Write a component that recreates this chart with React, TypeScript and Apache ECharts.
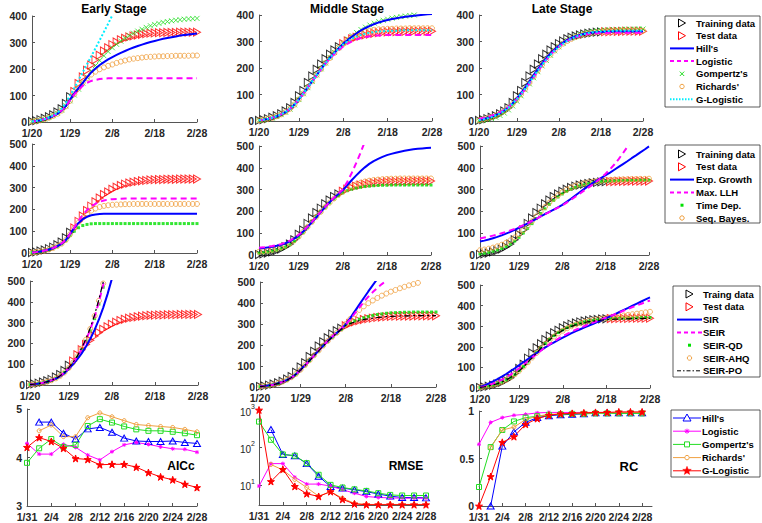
import React, { useEffect, useRef } from 'react';
import * as echarts from 'echarts';

// ---------------- data ----------------
const dates = ['1/20','1/21','1/22','1/23','1/24','1/25','1/26','1/27','1/28','1/29','1/30','1/31',
  '2/1','2/2','2/3','2/4','2/5','2/6','2/7','2/8','2/9','2/10','2/11','2/12','2/13','2/14','2/15',
  '2/16','2/17','2/18','2/19','2/20','2/21','2/22','2/23','2/24','2/25','2/26','2/27','2/28'];
const tickDates = ['1/20','1/29','2/8','2/18','2/28'];

const cases = [2,5,9,14,20,27,38,50,70,95, 115,145,170,195,215,235,252,268,280,292,
  302,310,316,321,325,328,331,333,335,336, 337,337,338,338,338,339,339,339,339,339];

// training period length (days) for each stage
const trainDays = [10, 19, 30];

// --- phenomenological models (row 1) ---
const earlyHill = [2,4,7,11,16,23,31,43,60,85, 108,128,148,168,187,202,215,226,236,245,
  253,261,268,275,281,287,292,297,302,306, 310,314,317,320,323,326,328,330,332,334];
const earlyLogistic = [2,4,7,11,16,23,32,44,60,82, 104,122,137,148,155,159,162,164,165,165,
  165,165,165,165,165,165,165,165,165,165, 165,165,165,165,165,165,165,165,165,165];
const earlyGompertz = [2,4,7,11,17,24,33,45,61,80, 102,124,147,170,192,213,232,250,266,280,
  293,305,316,326,335,343,350,357,363,368, 372,376,379,382,384,386,388,389,390,391];
const earlyRichards = [2,4,7,11,16,23,31,43,59,80, 105,128,148,165,179,190,199,206,212,217,
  223,228,232,236,239,241,243,245,246,247, 248,248,249,249,250,250,250,250,251,251];
const earlyGLogistic = [2,4,7,11,17,25,35,50,72,100, 128,158,188,218,248,278,309,340,371,403,
  436,null,null,null,null,null,null,null,null,null, null,null,null,null,null,null,null,null,null,null];

const middleHill = [3,5,8,12,18,25,34,46,62,82, 104,127,150,173,196,218,238,257,276,292,
  306,319,331,342,351,359,366,372,377,381, 385,388,391,393,395,397,399,401,403,404];
const middleLogistic = [3,5,8,12,18,25,34,46,62,82, 104,127,150,173,196,217,236,253,268,281,
  292,301,308,313,317,320,322,323,324,325, 325,325,325,325,325,325,325,325,325,325];
const middleGompertz = [2,4,7,11,17,24,33,45,61,81, 103,126,150,174,197,219,240,259,277,294,
  309,322,334,345,354,362,369,375,380,384, 388,391,394,396,398,400,402,403,405,406];
const middleRichards = [3,5,8,12,18,25,34,46,62,82, 104,127,150,173,196,218,238,257,275,291,
  305,316,325,332,337,341,344,346,347,348, 348,349,349,349,350,350,350,350,350,350];
const middleGLogistic = [3,5,8,12,18,25,34,46,62,82, 104,127,150,173,196,218,238,257,274,289,
  301,311,319,325,330,333,336,338,339,340, 341,341,342,342,342,342,342,342,342,342];

const lateHill = [4,7,11,16,22,30,40,52,67,85, 105,127,150,173,196,217,237,255,270,284,
  296,306,314,320,325,329,332,334,335,336, 337,337,338,338,338,338,338,338,338,338];
const lateLogistic = [8,11,15,20,26,33,42,53,66,82, 100,120,142,165,188,210,231,250,266,280,
  292,302,310,316,321,325,328,330,331,332, 332,333,333,333,333,333,333,333,333,333];
const lateGompertz = [1,3,5,9,14,21,30,42,57,75, 95,117,140,163,186,208,229,248,265,280,
  293,304,313,320,326,331,335,338,340,342, 343,344,345,345,346,346,346,347,347,347];
const lateRichards = [3,6,10,15,21,29,38,50,64,81, 100,121,144,167,190,212,232,250,266,280,
  292,302,310,317,322,327,330,333,335,337, 338,339,340,340,341,341,341,341,341,341];
const lateGLogistic = [3,6,10,15,21,29,39,51,66,83, 102,123,145,168,191,212,232,250,266,280,
  292,302,311,318,324,328,332,335,337,338, 339,340,340,341,341,341,341,341,341,341];

// --- statistical models (row 2) ---
const earlyExp = [2,4,7,11,16,23,31,42,60,88, 115,138,155,166,173,177,179,180,180,180,
  180,180,180,180,180,180,180,180,180,180, 180,180,180,180,180,180,180,180,180,180];
const earlyLLH = [2,4,7,11,16,23,32,44,61,88, 118,148,175,197,214,226,235,241,245,247,
  248,249,250,250,250,250,250,250,250,250, 250,250,250,250,250,250,250,250,250,250];
const earlyTD = [2,4,7,11,16,23,31,42,58,80, 100,116,126,131,134,135,135,135,135,135,
  135,135,135,135,135,135,135,135,135,135, 135,135,135,135,135,135,135,135,135,135];
const earlySB = [2,4,7,11,16,23,32,43,60,86, 114,140,162,180,194,204,211,216,219,221,
  222,223,224,224,225,225,225,225,225,225, 225,225,225,225,225,225,225,225,225,225];

const middleExp = [30,32,35,38,42,47,54,63,75,90, 108,128,150,173,197,220,242,262,280,297,
  320,343,364,384,402,418,431,441,450,458, 464,469,474,478,482,485,487,489,491,492];
const middleLLH = [33,35,38,41,45,50,57,66,78,93, 110,130,152,175,198,221,243,263,282,300,
  335,375,420,468,520,null,null,null,null,null, null,null,null,null,null,null,null,null,null,null];
const middleTD = [8,10,13,17,22,28,36,47,62,81, 103,127,151,175,198,219,239,257,272,285,
  295,302,307,311,314,316,318,319,320,320, 321,321,321,321,321,321,321,321,321,321];
const middleSB = [15,17,20,24,29,35,43,53,67,85, 106,129,152,175,198,220,240,259,276,291,
  304,315,324,331,337,341,344,346,348,349, 350,350,351,351,351,351,351,351,351,351];

const lateExp = [62,66,71,77,83,90,98,106,115,125, 135,145,155,166,177,188,198,208,219,230,
  244,258,273,288,302,316,330,342,354,366, 378,391,404,417,430,444,457,471,484,498];
const lateLLH = [76,80,84,89,94,100,106,113,120,128, 137,146,156,166,177,187,197,207,217,227,
  240,253,267,281,295,309,323,338,355,373, 393,415,440,467,496,527,null,null,null,null];
const lateTD = [5,8,12,17,23,30,39,50,64,81, 101,122,144,167,190,212,232,250,266,280,
  292,302,310,317,322,327,331,334,336,338, 339,340,341,341,342,342,342,343,343,343];
const lateSB = [22,25,29,34,40,47,56,67,80,96, 114,134,155,177,199,220,240,258,274,288,
  300,310,318,324,329,333,336,339,341,343, 344,345,346,347,347,348,348,349,349,350];

// --- compartmental models (row 3) ---
const earlySIR = [2,4,7,11,16,23,31,42,57,78, 100,124,152,185,222,265,315,372,437,510,
  null,null,null,null,null,null,null,null,null,null, null,null,null,null,null,null,null,null,null,null];
const earlySEIR = [2,4,7,11,16,23,32,44,60,82, 107,137,173,216,267,328,400,482,575,null,
  null,null,null,null,null,null,null,null,null,null, null,null,null,null,null,null,null,null,null,null];
const earlyQD = [2,4,7,11,16,23,32,44,60,81, 105,134,169,211,260,319,389,470,560,null,
  null,null,null,null,null,null,null,null,null,null, null,null,null,null,null,null,null,null,null,null];
const earlyAHQ = [2,4,7,11,16,23,32,44,60,82, 108,138,175,218,270,332,405,488,580,null,
  null,null,null,null,null,null,null,null,null,null, null,null,null,null,null,null,null,null,null,null];
const earlyPO = [2,4,7,11,16,23,32,44,60,83, 109,140,178,222,275,338,412,496,590,null,
  null,null,null,null,null,null,null,null,null,null, null,null,null,null,null,null,null,null,null,null];

const middleSIR = [3,5,8,12,18,25,34,46,62,82, 104,127,150,173,196,218,238,257,276,298,
  328,360,392,424,455,485,515,null,null,null, null,null,null,null,null,null,null,null,null,null];
const middleSEIR = [2,4,7,11,17,24,33,45,61,81, 103,126,150,174,197,219,240,259,278,298,
  322,350,378,405,430,452,472,490,506,null, null,null,null,null,null,null,null,null,null,null];
const middleQD = [2,4,7,11,17,24,33,45,61,81, 103,126,149,172,195,217,237,256,274,295,
  305,315,323,330,336,341,345,348,351,353, 354,355,356,356,357,357,357,357,357,357];
const middleAHQ = [3,5,8,12,18,26,35,47,63,83, 105,128,151,174,197,219,239,258,277,300,
  324,347,367,384,399,412,424,435,445,454, 462,470,477,484,490,496,502,null,null,null];
const middlePO = [2,4,7,11,17,24,33,45,61,81, 103,126,149,172,195,217,237,256,275,293,
  302,310,316,321,325,328,331,333,335,336, 337,338,339,339,340,340,340,340,340,340];

const lateSIR = [5,13,22,32,43,55,68,82,96,111, 126,141,156,170,184,197,210,222,234,245,
  256,266,276,285,294,303,312,321,330,339, 349,359,369,379,389,400,410,420,430,440];
const lateSEIR = [3,8,14,21,30,40,52,65,80,96, 113,130,148,165,182,198,213,227,240,252,
  263,273,283,292,301,310,318,326,334,342, 350,359,367,376,384,393,401,409,417,425];
const lateQD = [3,6,10,15,21,29,39,51,66,84, 104,126,149,172,195,216,236,254,269,282,
  293,302,310,316,321,325,328,331,333,335, 336,337,338,339,340,340,341,341,342,342];
const lateAHQ = [4,7,11,16,22,30,40,52,67,84, 104,125,148,171,193,214,233,250,265,278,
  290,300,308,315,321,326,330,334,337,340, 343,346,349,352,355,358,361,364,367,370];
const latePO = [3,6,10,15,21,29,39,51,66,83, 103,125,148,171,194,215,234,251,266,279,
  290,299,307,313,318,322,325,328,330,332, 333,334,335,336,336,337,337,337,338,338];

// --- row 4: metrics, evaluated every two days ---
const dates4 = ['1/31','2/2','2/4','2/6','2/8','2/10','2/12','2/14','2/16','2/18','2/20','2/22','2/24','2/26','2/28'];
const days4 = [0,2,4,6,8,10,12,14,16,18,20,22,24,26,28];
const labelDays4 = [0,4,8,12,16,20,24,28];

const aiccHill = [null,4.73,4.73,4.50,4.38,4.59,4.62,4.52,4.40,4.34,4.33,4.33,4.34,4.31,4.29];
const aiccLogistic = [4.29,4.07,4.07,4.27,4.21,4.05,3.95,4.12,4.26,4.31,4.27,4.22,4.18,4.17,4.11];
const aiccGompertz = [3.89,4.19,4.38,4.22,4.26,4.65,4.79,4.72,4.64,4.58,4.55,4.55,4.53,4.50,4.46];
const aiccRichards = [null,4.55,4.67,4.43,4.43,4.82,4.92,4.84,4.76,4.68,4.66,4.64,4.62,4.58,4.53];
const aiccGLogistic = [4.21,4.41,4.33,4.19,3.98,3.96,3.85,3.86,3.86,3.80,3.69,3.60,3.54,3.45,3.38];

const rmseHill = [null,300,65,60,37,17,9,8.2,7.4,6.6,5.7,5.0,4.6,4.6,4.5];
const rmseLogistic = [9.3,37,37,16,10.5,10.5,9.3,7.4,6.0,4.9,4.6,4.5,4.4,4.4,4.4];
const rmseGompertz = [490,160,65,60,38,18.6,10,8.5,7.6,6.9,6.0,5.4,5.2,5.2,5.2];
const rmseRichards = [null,35,25,14,8.5,5.0,6.6,4.4,3.2,3.0,3.0,3.0,3.0,3.0,3.0];
const rmseGLogistic = [1000,12.3,26,9.1,5.8,4.9,6.6,4.1,3.1,2.95,2.95,2.95,2.95,2.95,2.95];

const rcHill = [null,0,0.63,0.78,0.88,0.93,0.95,0.96,0.965,0.97,0.98,0.98,0.98,0.98,0.98];
const rcLogistic = [0.65,0.88,0.93,0.955,0.965,0.98,0.985,0.985,0.985,0.985,0.985,0.985,0.985,0.985,0.985];
const rcGompertz = [0.20,0.62,0.80,0.89,0.93,0.945,0.96,0.965,0.97,0.97,0.975,0.975,0.975,0.975,0.975];
const rcRichards = [null,0.615,0.80,0.83,0.91,0.945,0.965,0.97,0.975,0.98,0.98,0.98,0.985,0.985,0.985];
const rcGLogistic = [0,0.31,0.67,0.73,0.86,0.92,0.955,0.97,0.975,0.98,0.985,0.985,0.99,0.99,0.99];

// ---------------- styling ----------------
const FONT = '"Liberation Sans", Arial, Helvetica, sans-serif';
const AXC = '#262626';
const AXL = '#555555';
const BLUE = '#0000ff';
const MAG = '#ff00ff';
const GREEN = '#22dd22';
const DOTGREEN = '#00e000';
const ORANGE = '#f0a040';
const CYAN = '#00eeff';
const RED = '#ff0000';

const TRI_R = 'path://M0,0L10,5L0,10Z';
const TRI_U = 'path://M5,0L10,9L0,9Z';
const X_MARK = 'path://M0,0L10,10M10,0L0,10';
const AST = 'path://M5,0L5,10M0,5L10,5M1.5,1.5L8.5,8.5M8.5,1.5L1.5,8.5';
const SQUARE = 'path://M0,0L10,0L10,10L0,10Z';
const STAR = 'path://M50,0L61.8,34.5L97.6,34.5L68.5,55.9L79.4,90.5L50,69.1L20.6,90.5L31.5,55.9L2.4,34.5L38.2,34.5Z';

const ST: Record<string, any> = {
  blue: { kind: 'line', color: BLUE, width: 2 },
  magDash: { kind: 'line', color: MAG, width: 2, dash: [6, 4] },
  cyanDot: { kind: 'line', color: CYAN, width: 2, dash: [2, 2] },
  dashDot: { kind: 'line', color: '#000000', width: 1.2, dash: [6, 3, 2, 3] },
  greenX: { kind: 'scatter', color: GREEN, symbol: X_MARK, size: 5 },
  orangeO: { kind: 'scatter', color: ORANGE, symbol: 'circle', size: 5 },
  greenDot: { kind: 'scatter', color: DOTGREEN, symbol: 'rect', size: 3, fill: true },
};

// grid rectangles [left, top, width, height], row-major
const GRIDS = [
  [32, 16, 165, 106], [259, 15, 173, 106], [479, 15, 164, 106],
  [32, 144, 165, 109], [259, 146, 172, 109], [480, 146, 169, 109],
  [30, 281, 168, 104], [260, 282, 176, 105], [480, 285, 170, 103],
  [27, 409, 170, 97], [259, 410, 167, 95], [479, 411, 173, 95],
];

const lab = { color: AXC, fontWeight: 'bold' as const, fontSize: 10.5, fontFamily: FONT };

function mk(g: number, name: string, data: (number | null)[], st: any) {
  const d = data.map((v) => (v == null ? '-' : v));
  if (st.kind === 'line') {
    return {
      type: 'line', name, xAxisIndex: g, yAxisIndex: g, data: d, symbol: 'none', showSymbol: false,
      lineStyle: { color: st.color, width: st.width, type: st.dash || 'solid' },
      itemStyle: { color: st.color }, silent: true, clip: true,
    };
  }
  return {
    type: 'scatter', name, xAxisIndex: g, yAxisIndex: g, data: d, symbol: st.symbol, symbolSize: st.size,
    itemStyle: st.fill ? { color: st.color } : { color: 'rgba(0,0,0,0)', borderColor: st.color, borderWidth: 1 },
    silent: true, clip: true,
  };
}

function obsSeries(g: number, split: number) {
  const train = cases.map((v, i) => (i < split ? v : null));
  const test = cases.map((v, i) => (i >= split ? v : null));
  return [
    mk(g, 'train', train, { kind: 'scatter', color: '#000000', symbol: TRI_R, size: [7, 8] }),
    mk(g, 'test', test, { kind: 'scatter', color: RED, symbol: TRI_R, size: [7, 8] }),
  ];
}

function metricSeries(g: number, arrs: (number | null)[][]) {
  const specs = [
    { color: BLUE, symbol: TRI_U, size: [7, 6], fill: false },
    { color: MAG, symbol: AST, size: 4, fill: false },
    { color: GREEN, symbol: SQUARE, size: 5, fill: false },
    { color: ORANGE, symbol: 'circle', size: 4, fill: false },
    { color: RED, symbol: STAR, size: 7, fill: true },
  ];
  return arrs.map((arr, k) => {
    const sp = specs[k];
    const data = days4.map((x, j) => [x, arr[j]]).filter((p) => p[1] != null);
    return {
      type: 'line', xAxisIndex: g, yAxisIndex: g, data, symbol: sp.symbol, symbolSize: sp.size,
      showSymbol: true, silent: true,
      lineStyle: { color: sp.color, width: 1 },
      itemStyle: sp.fill ? { color: sp.color, borderColor: sp.color, borderWidth: 1 }
        : { color: 'rgba(0,0,0,0)', borderColor: sp.color, borderWidth: 1 },
    };
  });
}

function markerEls(kind: string, cx: number, cy: number, color: string): any[] {
  const s = { fill: 'none', stroke: color, lineWidth: 1 };
  switch (kind) {
    case 'triR':
      return [{ type: 'polygon', shape: { points: [[cx - 3.5, cy - 4], [cx + 3.5, cy], [cx - 3.5, cy + 4]] }, style: s }];
    case 'triU':
      return [{ type: 'polygon', shape: { points: [[cx, cy - 4], [cx + 4, cy + 3], [cx - 4, cy + 3]] }, style: { ...s, fill: '#fff' } }];
    case 'x':
      return [
        { type: 'line', shape: { x1: cx - 2.2, y1: cy - 2.2, x2: cx + 2.2, y2: cy + 2.2 }, style: s },
        { type: 'line', shape: { x1: cx + 2.2, y1: cy - 2.2, x2: cx - 2.2, y2: cy + 2.2 }, style: s },
      ];
    case 'ast':
      return [
        { type: 'line', shape: { x1: cx - 2.5, y1: cy, x2: cx + 2.5, y2: cy }, style: s },
        { type: 'line', shape: { x1: cx, y1: cy - 2.5, x2: cx, y2: cy + 2.5 }, style: s },
        { type: 'line', shape: { x1: cx - 1.8, y1: cy - 1.8, x2: cx + 1.8, y2: cy + 1.8 }, style: s },
        { type: 'line', shape: { x1: cx + 1.8, y1: cy - 1.8, x2: cx - 1.8, y2: cy + 1.8 }, style: s },
      ];
    case 'circle':
      return [{ type: 'circle', shape: { cx, cy, r: 2.2 }, style: { ...s, fill: '#fff' } }];
    case 'dot':
      return [{ type: 'rect', shape: { x: cx - 1.5, y: cy - 1.5, width: 3, height: 3 }, style: { fill: color } }];
    case 'square':
      return [{ type: 'rect', shape: { x: cx - 2.5, y: cy - 2.5, width: 5, height: 5 }, style: { ...s, fill: '#fff' } }];
    case 'star': {
      const pts: number[][] = [];
      for (let i = 0; i < 10; i++) {
        const r = i % 2 === 0 ? 4.5 : 1.9;
        const a = -Math.PI / 2 + (i * Math.PI) / 5;
        pts.push([cx + r * Math.cos(a), cy + r * Math.sin(a)]);
      }
      return [{ type: 'polygon', shape: { points: pts }, style: { fill: color, stroke: color, lineWidth: 0.5 } }];
    }
    default:
      return [];
  }
}

function legendEls(box: number[], firstY: number, step: number, ix0: number, ix1: number, tx: number, items: any[]) {
  const els: any[] = [{
    type: 'rect', shape: { x: box[0], y: box[1], width: box[2], height: box[3] },
    style: { fill: '#ffffff', stroke: '#333333', lineWidth: 0.8 }, silent: true,
  }];
  items.forEach((it, k) => {
    const cy = firstY + k * step;
    const cx = (ix0 + ix1) / 2;
    if (it.line) {
      els.push({ type: 'line', shape: { x1: ix0, y1: cy, x2: ix1, y2: cy },
        style: { stroke: it.color, lineWidth: it.lw || 2, lineDash: it.dash || null } });
    }
    if (it.marker) els.push(...markerEls(it.marker, cx, cy, it.color));
    els.push({
      type: 'text', x: tx, y: cy,
      style: { text: it.label, fill: '#000000', fontSize: 9.5, fontWeight: 'bold', fontFamily: FONT,
        textAlign: 'left', textVerticalAlign: 'middle', align: 'left', verticalAlign: 'middle' },
    });
  });
  return els;
}

function textEl(x: number, y: number, text: string, size: number) {
  return {
    type: 'text', x, y,
    style: { text, fill: '#000000', fontSize: size, fontWeight: 'bold', fontFamily: FONT,
      textAlign: 'center', textVerticalAlign: 'middle', align: 'center', verticalAlign: 'middle' },
  };
}

function buildOption() {
  const tickIdx = tickDates.map((d) => dates.indexOf(d));
  const showIdx = (i: number) => tickIdx.includes(i);
  const grid = GRIDS.map((r) => ({ left: r[0], top: r[1], width: r[2], height: r[3], containLabel: false, outerBoundsMode: 'none' }));

  const axisLine = { show: true, onZero: false, lineStyle: { color: AXL, width: 1 } };
  const axisTick = { show: true, inside: true, length: 3, lineStyle: { color: AXL } };

  const xAxis: any[] = [];
  const yAxis: any[] = [];
  for (let g = 0; g < 9; g++) {
    xAxis.push({
      type: 'category', gridIndex: g, data: dates, boundaryGap: false, axisLine,
      axisTick: { ...axisTick, interval: showIdx },
      axisLabel: { ...lab, interval: showIdx, margin: 5 }, splitLine: { show: false },
    });
    yAxis.push({
      type: 'value', gridIndex: g, min: 0, max: g < 3 ? 400 : 500, interval: 100, axisLine, axisTick,
      axisLabel: { ...lab, margin: 5 }, splitLine: { show: false },
    });
  }
  const x4 = (g: number, max: number) => ({
    type: 'value', gridIndex: g, min: 0, max, axisLine,
    axisTick: { ...axisTick, customValues: labelDays4 },
    axisLabel: { ...lab, margin: 5, customValues: labelDays4, formatter: (v: number) => dates4[Math.round(v / 2)] },
    splitLine: { show: false },
  });
  xAxis.push(x4(9, 28), x4(10, 28), x4(11, 29.7));
  yAxis.push({
    type: 'value', gridIndex: 9, min: 3, max: 5, interval: 1, axisLine, axisTick,
    axisLabel: { ...lab, margin: 5 }, splitLine: { show: false },
  });
  yAxis.push({
    type: 'log', logBase: 10, gridIndex: 10, min: 2.9, max: 1000, axisLine,
    axisTick: { ...axisTick, customValues: [10, 100, 1000] },
    axisLabel: {
      margin: 4, customValues: [10, 100, 1000],
      formatter: (v: number) => `{b|10}{s|${Math.round(Math.log10(v))}}`,
      rich: {
        b: { fontSize: 10, color: AXC, fontFamily: FONT, lineHeight: 14, verticalAlign: 'bottom' },
        s: { fontSize: 7, color: AXC, fontFamily: FONT, lineHeight: 8, verticalAlign: 'top' },
      },
    },
    splitLine: { show: false },
  });
  yAxis.push({
    type: 'value', gridIndex: 11, min: 0, max: 1, axisLine,
    axisTick: { ...axisTick, customValues: [0, 0.5, 1] },
    axisLabel: { ...lab, margin: 5, customValues: [0, 0.5, 1] }, splitLine: { show: false },
  });

  const series: any[] = [];
  const row1 = [
    [earlyHill, earlyLogistic, earlyGompertz, earlyRichards, earlyGLogistic],
    [middleHill, middleLogistic, middleGompertz, middleRichards, middleGLogistic],
    [lateHill, lateLogistic, lateGompertz, lateRichards, lateGLogistic],
  ];
  const row1St = [ST.blue, ST.magDash, ST.greenX, ST.orangeO, ST.cyanDot];
  const row2 = [
    [earlyExp, earlyLLH, earlyTD, earlySB],
    [middleExp, middleLLH, middleTD, middleSB],
    [lateExp, lateLLH, lateTD, lateSB],
  ];
  const row2St = [ST.blue, ST.magDash, ST.greenDot, ST.orangeO];
  const row3 = [
    [earlySIR, earlySEIR, earlyQD, earlyAHQ, earlyPO],
    [middleSIR, middleSEIR, middleQD, middleAHQ, middlePO],
    [lateSIR, lateSEIR, lateQD, lateAHQ, latePO],
  ];
  const row3St = [ST.blue, ST.magDash, ST.greenDot, ST.orangeO, ST.dashDot];

  const rows = [[row1, row1St], [row2, row2St], [row3, row3St]] as any[];
  rows.forEach(([models, styles], r) => {
    for (let c = 0; c < 3; c++) {
      const g = r * 3 + c;
      series.push(...obsSeries(g, trainDays[c]));
      models[c].forEach((arr: (number | null)[], k: number) => series.push(mk(g, `m${g}_${k}`, arr, styles[k])));
    }
  });
  series.push(...metricSeries(9, [aiccHill, aiccLogistic, aiccGompertz, aiccRichards, aiccGLogistic]));
  series.push(...metricSeries(10, [rmseHill, rmseLogistic, rmseGompertz, rmseRichards, rmseGLogistic]));
  series.push(...metricSeries(11, [rcHill, rcLogistic, rcGompertz, rcRichards, rcGLogistic]));

  const graphic: any[] = [
    textEl(114, 9, 'Early Stage', 12),
    textEl(347, 9, 'Middle Stage', 12),
    textEl(562, 9, 'Late Stage', 12),
    textEl(181, 466, 'AICc', 12),
    textEl(406, 466, 'RMSE', 12),
    textEl(629, 466, 'RC', 13),
    ...legendEls([665, 16, 95, 91], 23, 12.7, 670, 694, 696, [
      { label: 'Training data', marker: 'triR', color: '#000000' },
      { label: 'Test data', marker: 'triR', color: RED },
      { label: "Hill's", line: true, color: BLUE },
      { label: 'Logistic', line: true, color: MAG, dash: [4, 3] },
      { label: "Gompertz's", marker: 'x', color: GREEN },
      { label: "Richards'", marker: 'circle', color: ORANGE },
      { label: 'G-Logistic', line: true, color: CYAN, dash: [1.5, 1.5] },
    ]),
    ...legendEls([665, 145, 95, 78], 154, 12.8, 670, 694, 696, [
      { label: 'Training data', marker: 'triR', color: '#000000' },
      { label: 'Test data', marker: 'triR', color: RED },
      { label: 'Exp. Growth', line: true, color: BLUE },
      { label: 'Max. LLH', line: true, color: MAG, dash: [4, 3] },
      { label: 'Time Dep.', marker: 'dot', color: DOTGREEN },
      { label: 'Seq. Bayes.', marker: 'circle', color: ORANGE },
    ]),
    ...legendEls([673, 286, 87, 91], 294, 12.8, 677, 702, 703, [
      { label: 'Traing data', marker: 'triR', color: '#000000' },
      { label: 'Test data', marker: 'triR', color: RED },
      { label: 'SIR', line: true, color: BLUE },
      { label: 'SEIR', line: true, color: MAG, dash: [4, 3] },
      { label: 'SEIR-QD', marker: 'dot', color: DOTGREEN },
      { label: 'SEIR-AHQ', marker: 'circle', color: ORANGE },
      { label: 'SEIR-PO', line: true, color: '#000000', lw: 1, dash: [4, 2, 1.5, 2] },
    ]),
    ...legendEls([671, 410, 89, 67], 418, 13.2, 673, 701, 702, [
      { label: "Hill's", line: true, lw: 1, marker: 'triU', color: BLUE },
      { label: 'Logistic', line: true, lw: 1, marker: 'ast', color: MAG },
      { label: "Gompertz's", line: true, lw: 1, marker: 'square', color: GREEN },
      { label: "Richards'", line: true, lw: 1, marker: 'circle', color: ORANGE },
      { label: 'G-Logistic', line: true, lw: 1, marker: 'star', color: RED },
    ]),
  ];

  return { animation: false, backgroundColor: '#ffffff', grid, xAxis, yAxis, series, graphic };
}

export default function App() {
  const ref = useRef<HTMLDivElement>(null);
  useEffect(() => {
    if (!ref.current) return;
    const chart = echarts.init(ref.current, undefined, { renderer: 'svg' });
    chart.setOption(buildOption() as any);
    return () => chart.dispose();
  }, []);
  return (
    <div
      ref={ref}
      style={{ position: 'fixed', left: 0, top: 0, width: 762, height: 523, background: '#fff' }}
    />
  );
}
